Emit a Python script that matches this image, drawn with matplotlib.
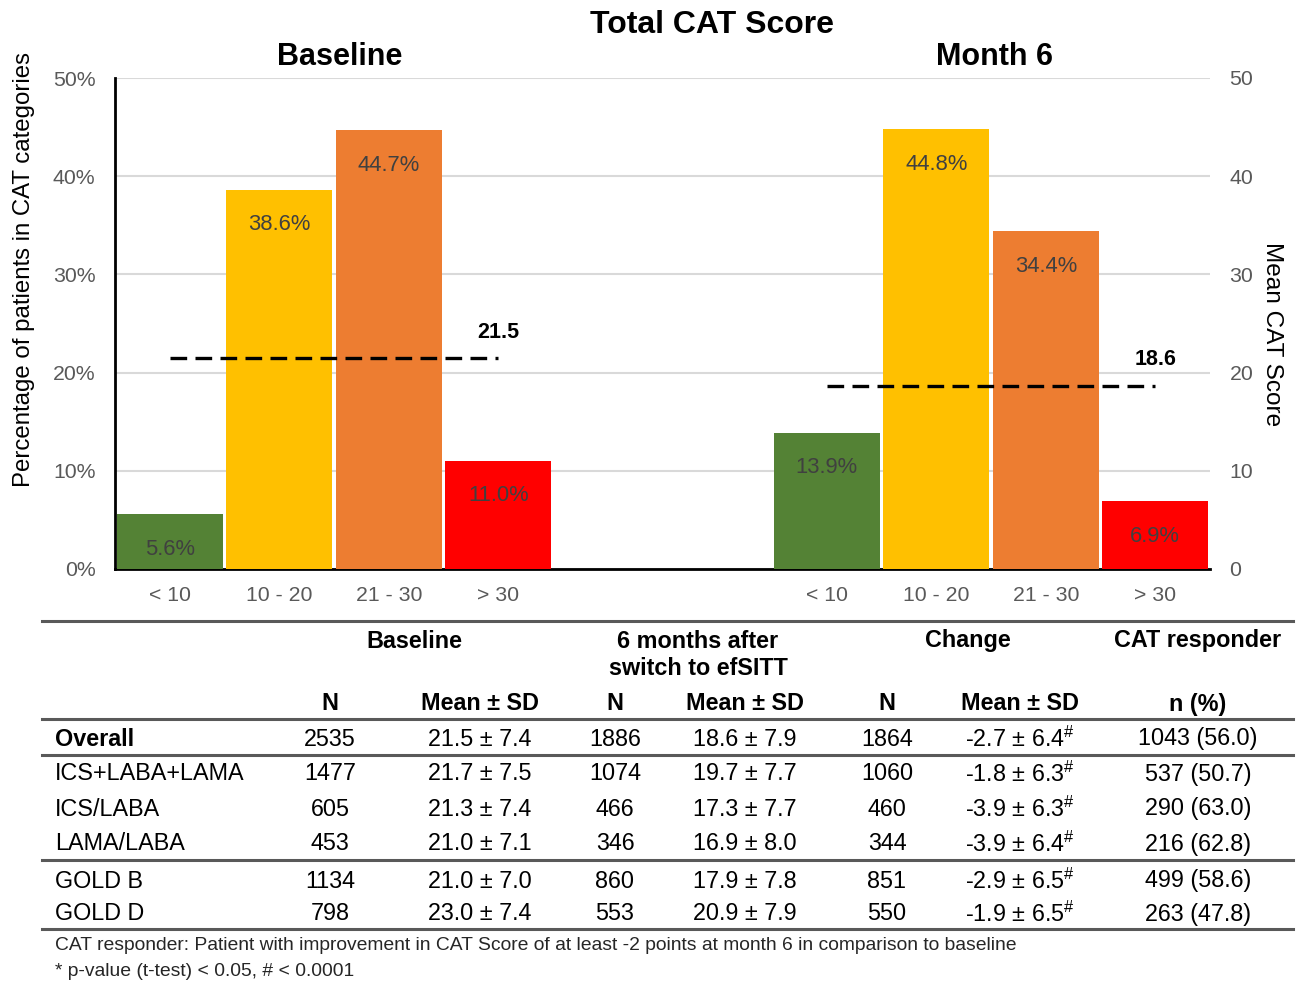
import matplotlib.pyplot as plt
from matplotlib.lines import Line2D

plt.rcParams['font.family'] = ['Liberation Sans', 'DejaVu Sans']
plt.rcParams['mathtext.fontset'] = 'custom'
plt.rcParams['mathtext.rm'] = 'Liberation Sans'

# chart data
categories = ["< 10", "10 - 20", "21 - 30", "> 30"]
baseline_pct = [5.6, 38.6, 44.7, 11.0]
month6_pct = [13.9, 44.8, 34.4, 6.9]
baseline_mean = 21.5
month6_mean = 18.6
bar_colors = ["#548235", "#FFC000", "#ED7D31", "#FF0000"]

# table data
row_labels = ["Overall", "ICS+LABA+LAMA", "ICS/LABA", "LAMA/LABA", "GOLD B", "GOLD D"]
base_n = ["2535", "1477", "605", "453", "1134", "798"]
base_mean = ["21.5 ± 7.4", "21.7 ± 7.5", "21.3 ± 7.4", "21.0 ± 7.1", "21.0 ± 7.0", "23.0 ± 7.4"]
m6_n = ["1886", "1074", "466", "346", "860", "553"]
m6_mean = ["18.6 ± 7.9", "19.7 ± 7.7", "17.3 ± 7.7", "16.9 ± 8.0", "17.9 ± 7.8", "20.9 ± 7.9"]
chg_n = ["1864", "1060", "460", "344", "851", "550"]
chg_mean = ["-2.7 ± 6.4", "-1.8 ± 6.3", "-3.9 ± 6.3", "-3.9 ± 6.4", "-2.9 ± 6.5", "-1.9 ± 6.5"]
responder = ["1043 (56.0)", "537 (50.7)", "290 (63.0)", "216 (62.8)", "499 (58.6)", "263 (47.8)"]

W, H = 1297, 981
fig = plt.figure(figsize=(W / 100, H / 100), dpi=100)


def px(x):
    return x / W


def py(y):
    return 1 - y / H


ax = fig.add_axes([px(115), py(569), px(1210) - px(115), py(78) - py(569)])
pos_base = [0, 1, 2, 3]
pos_m6 = [6, 7, 8, 9]
ax.bar(pos_base, baseline_pct, width=0.97, color=bar_colors, zorder=3)
ax.bar(pos_m6, month6_pct, width=0.97, color=bar_colors, zorder=3)
for p, v in list(zip(pos_base, baseline_pct)) + list(zip(pos_m6, month6_pct)):
    ax.annotate(f"{v:.1f}%", (p, v), xytext=(0, -35), textcoords="offset pixels",
                ha="center", va="center", fontsize=15.8, color="#404040", zorder=4)

ax.set_xlim(-0.5, 9.5)
ax.set_ylim(0, 50)
ax.set_yticks(range(0, 51, 10))
ax.set_yticklabels([f"{t}%" for t in range(0, 51, 10)])
ax.set_xticks(pos_base + pos_m6)
ax.set_xticklabels(categories + categories)
ax.tick_params(axis="both", length=0, labelsize=15.3, labelcolor="#595959")
ax.tick_params(axis="y", pad=14)
ax.tick_params(axis="x", pad=12)
ax.grid(axis="y", color="#d9d9d9", lw=1.5, zorder=0)
for s in ["top", "right"]:
    ax.spines[s].set_visible(False)
ax.spines["left"].set_linewidth(2)
ax.spines["bottom"].set_linewidth(2)
ax.set_ylabel("Percentage of patients in CAT categories", fontsize=17.3)
ax.yaxis.set_label_coords(-0.073, 0.609)

ax2 = ax.twinx()
ax2.set_ylim(0, 50)
ax2.set_yticks(range(0, 51, 10))
ax2.tick_params(axis="y", length=0, labelsize=15.3, labelcolor="#595959", pad=14)
for s in ax2.spines.values():
    s.set_visible(False)
ax2.set_ylabel("Mean CAT Score", fontsize=17.6, rotation=270, va="center")
ax2.yaxis.set_label_coords(1.057, 0.479)
ax2.plot([pos_base[0], pos_base[-1]], [baseline_mean] * 2, color="black", lw=2.4,
         dashes=(5, 2.5), zorder=5)
ax2.plot([pos_m6[0], pos_m6[-1]], [month6_mean] * 2, color="black", lw=2.4,
         dashes=(5, 2.5), zorder=5)
ax2.annotate(f"{baseline_mean}", (pos_base[-1], baseline_mean), xytext=(0, 25),
             textcoords="offset pixels", ha="center", va="center", fontsize=15.5, fontweight="bold")
ax2.annotate(f"{month6_mean}", (pos_m6[-1], month6_mean), xytext=(0, 27),
             textcoords="offset pixels", ha="center", va="center", fontsize=15.5, fontweight="bold")

fig.text(px(340), py(57), "Baseline", ha="center", va="center", fontsize=22, fontweight="bold")
fig.text(px(994), py(57), "Month 6", ha="center", va="center", fontsize=22, fontweight="bold")
fig.text(px(712), py(25), "Total CAT Score", ha="center", va="center", fontsize=23, fontweight="bold")

# table
line_kw = dict(color="#595959", lw=2.2, transform=fig.transFigure)
for y in [621, 719, 755, 860, 929]:
    fig.add_artist(Line2D([px(42), px(1293)], [py(y), py(y)], **line_kw))

fs = 16.8
hdr = dict(ha="center", va="center", fontsize=fs, fontweight="bold")
fig.text(px(414), py(641), "Baseline", **hdr)
fig.text(px(698), py(655), "6 months after\nswitch to efSITT", linespacing=1.2, **hdr)
fig.text(px(968), py(641), "Change", **hdr)
fig.text(px(1198), py(641), "CAT responder", **hdr)

col_x = [330, 480, 615, 745, 887, 1020, 1198]
col_heads = ["N", "Mean ± SD", "N", "Mean ± SD", "N", "Mean ± SD", "n (%)"]
for x, h in zip(col_x, col_heads):
    fig.text(px(x), py(704), h, **hdr)

row_y = [739, 774, 809, 844, 881, 914]
for i, y in enumerate(row_y):
    weight = "bold" if i == 0 else "normal"
    fig.text(px(55), py(y), row_labels[i], ha="left", va="center", fontsize=fs, fontweight=weight)
    cells = [base_n[i], base_mean[i], m6_n[i], m6_mean[i], chg_n[i],
             chg_mean[i] + r"$^{\#}$", responder[i]]
    for x, c in zip(col_x, cells):
        fig.text(px(x), py(y), c, ha="center", va="center", fontsize=fs)

fig.text(px(55), py(946), "CAT responder: Patient with improvement in CAT Score of at least -2 points "
         "at month 6 in comparison to baseline", ha="left", va="center", fontsize=13.9, color="#262626")
fig.text(px(55), py(971), "* p-value (t-test) < 0.05, # < 0.0001", ha="left", va="center",
         fontsize=13.9, color="#262626")

fig.savefig("out.png", dpi=100)
